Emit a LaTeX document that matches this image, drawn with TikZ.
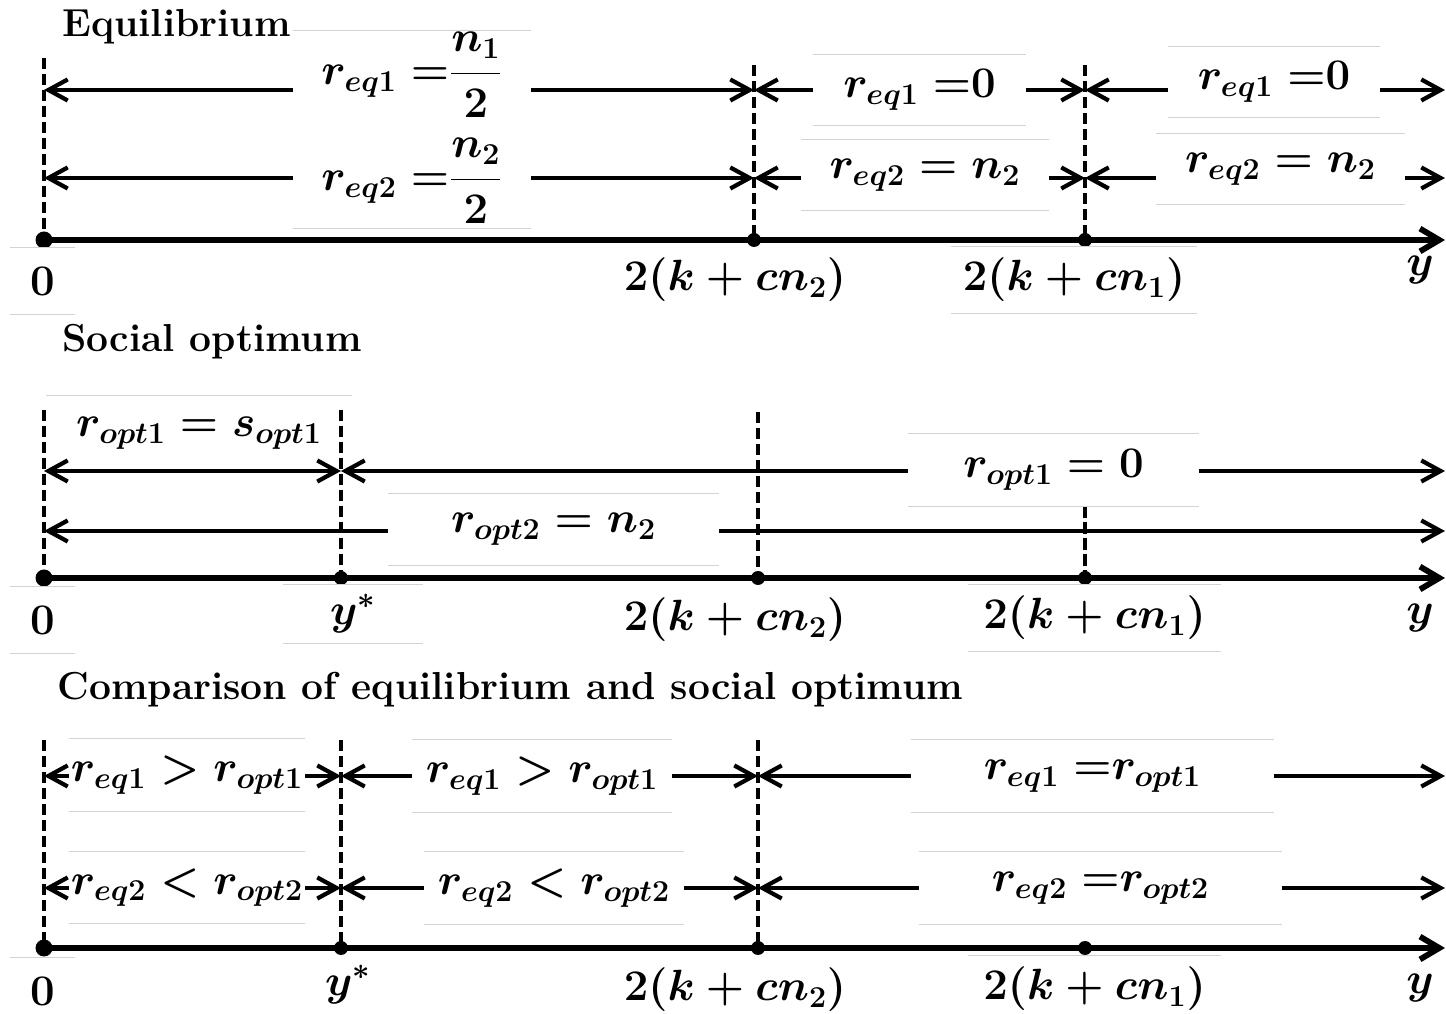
\documentclass[tikz,border=0pt]{standalone}
\usepackage{amsmath}
\usetikzlibrary{arrows.meta, positioning, calc}
\definecolor{inkbox}{HTML}{D3D3D3}

\begin{document}
\begin{tikzpicture}[x=1cm, y=1cm,
    font=\fontsize{23.5}{28}\selectfont\bfseries\boldmath,
    axisline/.style={line width=3.3pt, -{Straight Barb[length=11pt, width=13pt]}},
    span/.style={line width=2.4pt,
      {Straight Barb[length=11pt, width=12pt]}-{Straight Barb[length=11pt, width=12pt]}},
    guide/.style={line width=2.8pt, dash pattern=on 6.5pt off 2.6pt},
    txtbox/.style={fill=white, inner sep=0pt},
    paneltitle/.style={anchor=base west, inner sep=0pt, font=\fontsize{22.2}{26}\selectfont\bfseries}]
  \useasboundingbox (0,0) rectangle (28.92,20.26);

  % Equilibrium
  \node[paneltitle] (eqtitle) at (1.24,19.52) {Equilibrium};
  \foreach \x/\top in {0.88/19.10, 15.08/18.96, 21.70/18.96}
    \draw[guide] (\x,\top) -- (\x,15.46);
  \foreach \y in {18.46, 16.70}
    \foreach \a/\b in {0.88/15.08, 15.08/21.70, 21.70/28.90}
      \draw[span] (\a,\y) -- (\b,\y);
  \draw[axisline] (0.88,15.46) -- (28.90,15.46);
  \fill (0.88,15.46) circle (0.17);
  \foreach \x in {15.08, 21.70}
    \fill (\x,15.46) circle (0.14);
  \node[txtbox, minimum width=4.76cm, minimum height=3.94cm] (eqbox) at (8.24,17.67) {};
  \node[inner sep=0pt] (eq1a) at (8.24,18.76) {$r_{eq1}\;{=}\dfrac{n_1}{2}$};
  \node[inner sep=0pt] (eq2a) at (8.24,16.64) {$r_{eq2}\;{=}\dfrac{n_2}{2}$};
  \node[txtbox, minimum width=4.26cm, minimum height=1.40cm] (eq1b) at (18.39,18.46) {$r_{eq1}\;{=}0$};
  \node[txtbox, minimum width=4.96cm, minimum height=1.40cm] (eq2b) at (18.50,16.76) {$r_{eq2}=n_2$};
  \node[txtbox, minimum width=4.24cm, minimum height=1.40cm] (eq1c) at (25.48,18.62) {$r_{eq1}\;{=}0$};
  \node[txtbox, minimum width=4.98cm, minimum height=1.40cm] (eq2c) at (25.61,16.88) {$r_{eq2}=n_2$};
  \node[txtbox, minimum width=1.30cm, minimum height=1.32cm] (eqzero) at (0.85,14.64) {$0$};
  \node (eqk2) at (14.70,14.66) {$2(k+cn_2)$};
  \node[txtbox, minimum width=4.92cm, minimum height=1.32cm] (eqk1) at (21.48,14.66) {$2(k+cn_1)$};
  \node (eqy) at (28.40,14.86) {$y$};

  % Social optimum
  \node[paneltitle] (sotitle) at (1.24,13.22) {Social optimum};
  \node[minimum width=6.12cm, minimum height=1.50cm, inner sep=0pt] (so1a) at (3.98,11.59) {$r_{opt1}=s_{opt1}$};
  \foreach \x/\top in {0.88/12.06, 6.82/12.06, 15.16/12.02}
    \draw[guide] (\x,\top) -- (\x,8.70);
  \draw[span] (0.88,10.84) -- (6.82,10.84);
  \draw[span] (6.82,10.84) -- (28.90,10.84);
  \draw[span] (0.88,9.64) -- (28.90,9.64);
  \draw[axisline] (0.88,8.70) -- (28.90,8.70);
  \fill (0.88,8.70) circle (0.17);
  \foreach \x in {6.82, 15.16, 21.70}
    \fill (\x,8.70) circle (0.14);
  \node[txtbox, minimum width=5.82cm, minimum height=1.44cm] (so1b) at (21.07,10.86) {$r_{opt1}=0$};
  \node[txtbox, minimum width=6.62cm, minimum height=1.42cm] (so2a) at (11.07,9.67) {$r_{opt2}=n_2$};
  \draw[guide] (so1b.south -| 21.70,0) -- (21.70,8.70);
  \node[txtbox, minimum width=1.30cm, minimum height=1.32cm] (sozero) at (0.85,7.86) {$0$};
  \node[txtbox, minimum width=2.80cm, minimum height=1.16cm] (soystar) at (7.06,7.98) {$y^*$};
  \node (sok2) at (14.70,7.86) {$2(k+cn_2)$};
  \node[txtbox, minimum width=5.06cm, minimum height=1.32cm] (sok1) at (21.89,7.90) {$2(k+cn_1)$};
  \node (soy) at (28.40,7.90) {$y$};

  % Comparison
  \node[paneltitle] (cmtitle) at (1.14,6.26) {Comparison of equilibrium and social optimum};
  \foreach \x in {0.88, 6.82, 15.16}
    \draw[guide] (\x,5.46) -- (\x,1.30);
  \foreach \y in {4.74, 2.50}
    \foreach \a/\b in {0.88/6.82, 6.82/15.16, 15.16/28.90}
      \draw[span] (\a,\y) -- (\b,\y);
  \draw[axisline] (0.88,1.30) -- (28.90,1.30);
  \fill (0.88,1.30) circle (0.17);
  \foreach \x in {6.82, 15.16, 21.70}
    \fill (\x,1.30) circle (0.14);
  \node[txtbox, minimum width=4.72cm, minimum height=1.44cm] (cm1a) at (3.74,4.76) {$r_{eq1}>r_{opt1}$};
  \node[txtbox, minimum width=5.20cm, minimum height=1.44cm] (cm1b) at (10.84,4.74) {$r_{eq1}>r_{opt1}$};
  \node[txtbox, minimum width=7.26cm, minimum height=1.44cm] (cm1c) at (21.85,4.74) {$r_{eq1}\;{=}r_{opt1}$};
  \node[txtbox, minimum width=4.72cm, minimum height=1.42cm] (cm2a) at (3.74,2.51) {$r_{eq2}<r_{opt2}$};
  \node[txtbox, minimum width=5.20cm, minimum height=1.44cm] (cm2b) at (11.08,2.50) {$r_{eq2}<r_{opt2}$};
  \node[txtbox, minimum width=7.26cm, minimum height=1.44cm] (cm2c) at (22.01,2.50) {$r_{eq2}\;{=}r_{opt2}$};
  \node[txtbox, minimum width=1.30cm, minimum height=1.32cm] (cmzero) at (0.85,0.44) {$0$};
  \node (cmystar) at (6.96,0.56) {$y^*$};
  \node (cmk2) at (14.70,0.46) {$2(k+cn_2)$};
  \node[txtbox, minimum width=5.06cm, minimum height=1.32cm] (cmk1) at (21.89,0.48) {$2(k+cn_1)$};
  \node (cmy) at (28.40,0.50) {$y$};

  \foreach \n in {eqbox, eq1b, eq2b, eq1c, eq2c, eqzero, eqk1,
                  so1b, so2a, sozero, soystar, sok1,
                  cm1a, cm1b, cm1c, cm2a, cm2b, cm2c, cmzero, cmk1}
    \draw[inkbox, line width=0.6pt] (\n.north west) -- (\n.north east)
                                    (\n.south west) -- (\n.south east);
  \draw[inkbox, line width=0.6pt] (so1a.north west) -- (so1a.north east);
\end{tikzpicture}
\end{document}
